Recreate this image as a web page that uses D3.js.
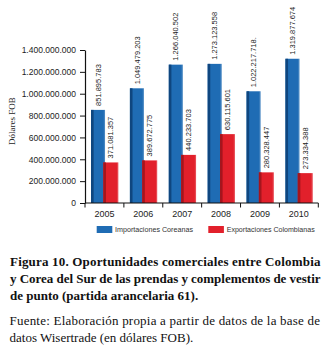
<!DOCTYPE html>
<html>
<head>
<meta charset="utf-8">
<script src="https://cdn.jsdelivr.net/npm/d3@7"></script>
<style>
html,body{margin:0;padding:0;background:#fff;}
svg{display:block;}
</style>
</head>
<body>
<svg id="chart" width="327" height="357"></svg>
<script>
// ---- data ----
const years = ["2005","2006","2007","2008","2009","2010"];
const importaciones = [851895783, 1049479203, 1266040502, 1273123558, 1022217718, 1319877674];
const exportaciones = [371081357, 389672775, 440233703, 630115601, 280328447, 273334388];
const importLabels = ["851.895.783","1.049.479.203","1.266.040.502","1.273.123.558","1.022.217.718.","1.319.877.674"];
const exportLabels = ["371.081.357","389.672.775","440.233.703","630.115.601","280.328.447","273.334.388"];
const yTicks = [0, 200000000, 400000000, 600000000, 800000000, 1000000000, 1200000000, 1400000000];
const seriesNames = ["Importaciones Coreanas", "Exportaciones Colombianas"];
const yTitle = "Dólares FOB";
const captionLines = [
  "Figura 10. Oportunidades comerciales entre Colombia",
  "y Corea del Sur de las prendas y complementos de vestir",
  "de punto (partida arancelaria 61)."
];
const sourceLines = [
  "Fuente: Elaboración propia a partir de datos de la base de",
  "datos Wisertrade (en dólares FOB)."
];

// ---- drawing ----
const svg = d3.select("#chart");
const locale = d3.formatLocale({decimal: ",", thousands: ".", grouping: [3], currency: ["", ""]});
const fmt = locale.format(",d");

const y = d3.scaleLinear().domain([0, 1400000000]).range([203, 50]);
const x = d3.scaleBand().domain(years).range([85, 318.3]).padding(0);
const bw = x.bandwidth();

const blueMain = "#1f6cb4", blueDark = "#0f467f";
const redMain = "#e2202b", redDark = "#a5151d";

// Y axis
const yAxis = svg.append("g")
  .attr("transform", "translate(85,0)")
  .call(d3.axisLeft(y).tickValues(yTicks).tickFormat(fmt).tickSize(5).tickPadding(4).tickSizeOuter(0));
yAxis.select(".domain").attr("stroke", "#111").attr("stroke-width", 1.2);
yAxis.selectAll(".tick line").attr("stroke", "#111");
yAxis.selectAll(".tick text")
  .attr("font-family", "Liberation Sans, Arial, sans-serif")
  .attr("font-size", "8.5px").attr("fill", "#1c1c1c");

// Y title
svg.append("text")
  .attr("transform", "translate(12,121) rotate(-90)")
  .attr("text-anchor", "middle")
  .attr("dy", "0.35em")
  .attr("font-family", "Liberation Serif, Times New Roman, serif")
  .attr("font-size", "9px").attr("fill", "#222")
  .text(yTitle);

// Bars
const imp = years.map((d, i) => ({year: d, v: importaciones[i], label: importLabels[i]}));
const exp = years.map((d, i) => ({year: d, v: exportaciones[i], label: exportLabels[i]}));

const bx0 = 0.155, bw0 = 0.36; // blue within band
const rx0 = 0.472, rw0 = 0.384; // red within band

function drawSeries(data, off, wf, main, dark) {
  const g = svg.append("g");
  g.selectAll("rect.main").data(data).join("rect")
    .attr("x", d => x(d.year) + off * bw)
    .attr("y", d => y(d.v))
    .attr("width", wf * bw)
    .attr("height", d => y(0) - y(d.v))
    .attr("fill", main);
  g.selectAll("rect.dark").data(data).join("rect")
    .attr("x", d => x(d.year) + off * bw)
    .attr("y", d => y(d.v))
    .attr("width", 2.6)
    .attr("height", d => y(0) - y(d.v))
    .attr("fill", dark);
  g.selectAll("rect.hl").data(data).join("rect")
    .attr("x", d => x(d.year) + off * bw + wf * bw - 1.2)
    .attr("y", d => y(d.v))
    .attr("width", 1.2)
    .attr("height", d => y(0) - y(d.v))
    .attr("fill", "#ffffff").attr("opacity", 0.18);
  g.selectAll("text").data(data).join("text")
    .attr("transform", d => `translate(${x(d.year) + off * bw + wf * bw / 2},${y(d.v) - 4}) rotate(-90)`)
    .attr("dy", "0.35em")
    .attr("text-anchor", "start")
    .attr("font-family", "Liberation Sans, Arial, sans-serif")
    .attr("font-size", "7.5px").attr("fill", "#222")
    .text(d => d.label);
}
drawSeries(imp, bx0, bw0, blueMain, blueDark);
drawSeries(exp, rx0, rw0, redMain, redDark);

// X axis
const xg = svg.append("g").attr("transform", `translate(0,${y(0)})`);
xg.append("line").attr("x1", 85).attr("x2", 318.3).attr("y1", 0).attr("y2", 0)
  .attr("stroke", "#111").attr("stroke-width", 1.2);
const bounds = years.map(d => x(d)).concat([x(years[years.length - 1]) + bw]);
xg.selectAll("line.tk").data(bounds).join("line")
  .attr("x1", d => d).attr("x2", d => d).attr("y1", 0).attr("y2", 4.5)
  .attr("stroke", "#111").attr("stroke-width", 1);
xg.selectAll("text").data(years).join("text")
  .attr("x", d => x(d) + bw / 2)
  .attr("y", 11.3)
  .attr("dy", "0.35em")
  .attr("text-anchor", "middle")
  .attr("font-family", "Liberation Sans, Arial, sans-serif")
  .attr("font-size", "9px").attr("fill", "#1c1c1c")
  .text(d => d);

// Legend
const legend = [
  {name: seriesNames[0], color: blueMain, x: 96.7, tx: 115, w: 78},
  {name: seriesNames[1], color: redMain, x: 208.3, tx: 226.7, w: 88}
];
const lg = svg.append("g");
lg.selectAll("rect").data(legend).join("rect")
  .attr("x", d => d.x).attr("y", 226).attr("width", 15.6).attr("height", 7)
  .attr("fill", d => d.color);
lg.selectAll("text").data(legend).join("text")
  .attr("x", d => d.tx).attr("y", 229.6).attr("dy", "0.35em")
  .attr("textLength", d => d.w).attr("lengthAdjust", "spacingAndGlyphs")
  .attr("font-family", "Liberation Sans, Arial, sans-serif")
  .attr("font-size", "7px").attr("fill", "#333")
  .text(d => d.name);

// Caption
const cap = svg.append("g")
  .attr("font-family", "Liberation Serif, Times New Roman, serif")
  .attr("font-size", "13px").attr("fill", "#111");
const capBase = [266, 283, 300];
captionLines.forEach((t, i) => {
  const tx = cap.append("text").attr("x", 10).attr("y", capBase[i])
    .attr("font-weight", "bold").text(t);
  if (i < captionLines.length - 1) tx.attr("textLength", 310.5);
});
const srcBase = [325, 342];
sourceLines.forEach((t, i) => {
  const tx = cap.append("text").attr("x", 9.5).attr("y", srcBase[i]).text(t);
  if (i < sourceLines.length - 1) tx.attr("textLength", 310.5);
});
</script>
</body>
</html>
